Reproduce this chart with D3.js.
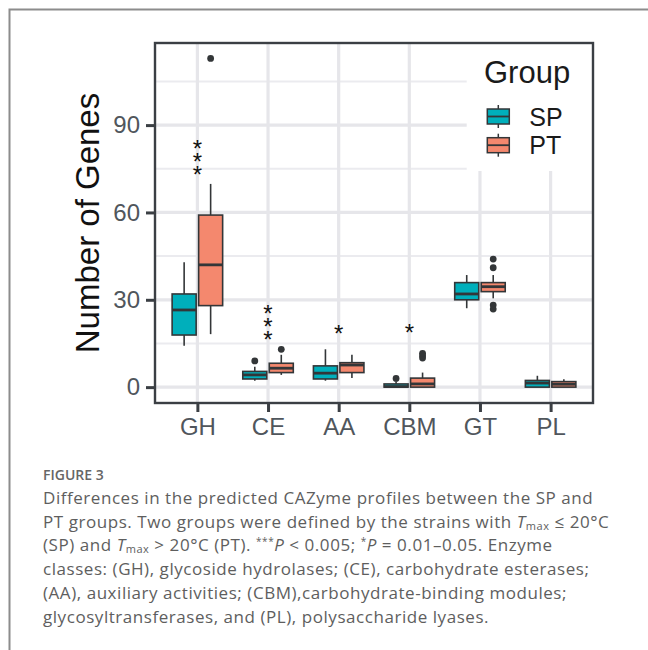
<!DOCTYPE html>
<html>
<head>
<meta charset="utf-8">
<script src="https://cdn.jsdelivr.net/npm/d3@7"></script>
<style>
  html, body { margin: 0; padding: 0; background: #fff; }
  svg { display: block; }
  .stars { writing-mode: vertical-rl; text-orientation: upright; }
</style>
</head>
<body>
<svg id="chart" width="648" height="650"></svg>
<script>
// ---------------- data ----------------
const categories = ["GH", "CE", "AA", "CBM", "GT", "PL"];
const groups = ["SP", "PT"];
const groupColors = ["#00AFBB", "#F4886E"];

// [lower whisker, Q1, median, Q3, upper whisker] per category
const spStats = [
  [14.2, 17.9, 26.5, 32.0, 42.9],
  [2.2, 2.8, 4.2, 5.4, 7.0],
  [2.2, 2.8, 4.8, 7.3, 13.0],
  [0.0, 0.0, 0.2, 1.1, 2.0],
  [27.1, 30.0, 32.0, 35.9, 38.5],
  [0.0, 0.0, 1.4, 2.3, 3.9]
];
const ptStats = [
  [18.2, 28.0, 42.0, 59.1, 69.8],
  [4.2, 5.0, 6.5, 8.2, 11.1],
  [3.1, 5.0, 7.6, 8.4, 11.1],
  [0.0, 0.0, 1.1, 3.1, 5.0],
  [30.5, 32.8, 34.5, 35.9, 38.5],
  [0.0, 0.0, 1.0, 1.9, 2.7]
];
const spOutliers = [[], [9], [], [3], [], []];
const ptOutliers = [[112.9], [13], [], [10, 10.8, 11.6], [44, 41, 28.2, 26.8], []];

const sigLabels = ["***", "***", "*", "*", "", ""];
const sigY = [75.2, 18.5, 18.3, 18.7, null, null]; // value of lowest star

const yTicks = [0, 30, 60, 90];
const yMinor = [15, 45, 75, 105];
const yTitle = "Number of Genes";
const legendTitle = "Group";

const figureLabel = "FIGURE 3";
const captionLines = [
  [{t: "Differences in the predicted CAZyme profiles between the SP and"}],
  [{t: "PT groups. Two groups were defined by the strains with "}, {t: "T", i: 1}, {t: "max", sub: 1}, {t: " \u2264 20\u00B0C"}],
  [{t: "(SP) and "}, {t: "T", i: 1}, {t: "max", sub: 1}, {t: " > 20\u00B0C (PT). "}, {t: "***", sup: 1}, {t: "P", i: 1}, {t: " < 0.005; "}, {t: "*", sup: 1}, {t: "P", i: 1}, {t: " = 0.01\u20130.05. Enzyme"}],
  [{t: "classes: (GH), glycoside hydrolases; (CE), carbohydrate esterases;"}],
  [{t: "(AA), auxiliary activities; (CBM),carbohydrate-binding modules;"}],
  [{t: "glycosyltransferases, and (PL), polysaccharide lyases."}]
];

// ---------------- layout ----------------
const svg = d3.select("#chart");
const P = {left: 155, right: 593, top: 43, bottom: 403};

const x = d3.scalePoint().domain(categories).range([P.left, P.right]).padding(0.6);
const y = d3.scaleLinear().domain([-5.45, 118.2]).range([P.bottom, P.top]);
const step = x.step();
const dodge = d3.scaleOrdinal().domain(groups).range([-0.1875 * step, 0.1875 * step]);
const color = d3.scaleOrdinal().domain(groups).range(groupColors);
const boxW = 0.34 * step;

// outer card frame
svg.append("path")
  .attr("d", "M9.5,650 L9.5,9.5 L648,9.5")
  .attr("fill", "none").attr("stroke", "#8c8c8c").attr("stroke-width", 2);

// panel background
svg.append("rect").attr("x", P.left).attr("y", P.top)
  .attr("width", P.right - P.left).attr("height", P.bottom - P.top).attr("fill", "#fff");

const grid = svg.append("g");
grid.selectAll("line.minor").data(yMinor).join("line")
  .attr("x1", P.left).attr("x2", P.right)
  .attr("y1", d => y(d)).attr("y2", d => y(d))
  .attr("stroke", "#EBEBEF").attr("stroke-width", 2);
grid.selectAll("line.major").data(yTicks).join("line")
  .attr("x1", P.left).attr("x2", P.right)
  .attr("y1", d => y(d)).attr("y2", d => y(d))
  .attr("stroke", "#E6E6EA").attr("stroke-width", 3.2);
grid.selectAll("line.vert").data(categories).join("line")
  .attr("y1", P.top).attr("y2", P.bottom)
  .attr("x1", d => x(d)).attr("x2", d => x(d))
  .attr("stroke", "#E6E6EA").attr("stroke-width", 3.2);

// boxes
const boxData = [];
categories.forEach((c, i) => {
  boxData.push({cat: c, grp: "SP", s: spStats[i], out: spOutliers[i]});
  boxData.push({cat: c, grp: "PT", s: ptStats[i], out: ptOutliers[i]});
});
const stroke = "#333638";
const bg = svg.append("g").selectAll("g").data(boxData).join("g")
  .attr("transform", d => `translate(${x(d.cat) + dodge(d.grp)},0)`);
bg.append("line").attr("x1", 0).attr("x2", 0)
  .attr("y1", d => y(d.s[0])).attr("y2", d => y(d.s[1]))
  .attr("stroke", stroke).attr("stroke-width", 1.6);
bg.append("line").attr("x1", 0).attr("x2", 0)
  .attr("y1", d => y(d.s[3])).attr("y2", d => y(d.s[4]))
  .attr("stroke", stroke).attr("stroke-width", 1.6);
bg.append("rect")
  .attr("x", -boxW / 2).attr("width", boxW)
  .attr("y", d => y(d.s[3])).attr("height", d => Math.max(0.5, y(d.s[1]) - y(d.s[3])))
  .attr("fill", d => color(d.grp)).attr("stroke", stroke).attr("stroke-width", 1.6);
bg.append("line").attr("x1", -boxW / 2).attr("x2", boxW / 2)
  .attr("y1", d => y(d.s[2])).attr("y2", d => y(d.s[2]))
  .attr("stroke", stroke).attr("stroke-width", 2.8);
bg.selectAll("circle").data(d => d.out).join("circle")
  .attr("cx", 0).attr("cy", d => y(d)).attr("r", 3.4).attr("fill", stroke);

// significance stars: one vertical text element per label
const starFs = 24;
const sg = svg.append("g");
categories.forEach((c, i) => {
  if (!sigLabels[i]) return;
  const n = sigLabels[i].length;
  const bottomCenter = y(sigY[i]);
  const t = sg.append("text")
    .attr("class", "stars")
    .attr("font-family", "Liberation Sans, Arial, sans-serif")
    .attr("font-size", starFs).attr("fill", "#111")
    .attr("text-anchor", "middle")
    .attr("letter-spacing", 0)
    .attr("x", x(c))
    .attr("y", bottomCenter - (n - 1) * 13 / 2)
    .text(sigLabels[i]);
  if (n > 1) {
    const len = t.node().getComputedTextLength();
    const adv = len / n;
    t.attr("letter-spacing", 13 - adv);
  }
  const bb = t.node().getBBox();
  const inkCy = bb.y + bb.height / 2;
  const targetCy = bottomCenter - (n - 1) * 13 / 2;
  t.attr("y", +t.attr("y") + (targetCy - inkCy));
  const inkCx = bb.x + bb.width / 2;
  t.attr("x", x(c) + (x(c) - inkCx));
});

// legend
const L = {x: 466.7, y: P.top, w: P.right - 466.7, h: 128};
svg.append("rect").attr("x", L.x).attr("y", L.y).attr("width", L.w).attr("height", L.h).attr("fill", "#fff");
svg.append("text").attr("x", 484).attr("y", 82.5)
  .attr("font-family", "Liberation Sans, Arial, sans-serif").attr("font-size", 31).attr("fill", "#1a1a1a")
  .text(legendTitle);
const legKeys = svg.append("g").selectAll("g").data(groups).join("g")
  .attr("transform", (d, i) => `translate(498.3,${116.5 + i * 28.7})`);
legKeys.append("line").attr("y1", -11.5).attr("y2", 11.5).attr("stroke", stroke).attr("stroke-width", 1.5);
legKeys.append("rect").attr("x", -11).attr("y", -7.5).attr("width", 22).attr("height", 15)
  .attr("fill", d => color(d)).attr("stroke", stroke).attr("stroke-width", 1.5);
legKeys.append("line").attr("x1", -11).attr("x2", 11).attr("stroke", stroke).attr("stroke-width", 1.8);
legKeys.append("text").attr("x", 31).attr("y", 9)
  .attr("font-family", "Liberation Sans, Arial, sans-serif").attr("font-size", 25).attr("fill", "#1a1a1a")
  .text(d => d);

// panel border
svg.append("rect").attr("x", P.left).attr("y", P.top)
  .attr("width", P.right - P.left).attr("height", P.bottom - P.top)
  .attr("fill", "none").attr("stroke", "#3b3f44").attr("stroke-width", 2.4);

// axes
const tickCol = "#3b3f44";
const labCol = "#50565c";
const yAxis = svg.append("g").attr("transform", `translate(${P.left - 1},0)`)
  .call(d3.axisLeft(y).tickValues(yTicks).tickSize(8).tickPadding(6).tickFormat(d3.format("d")));
yAxis.select(".domain").remove();
yAxis.selectAll(".tick line").attr("stroke", tickCol).attr("stroke-width", 3);
yAxis.selectAll(".tick text").attr("font-family", "Liberation Sans, Arial, sans-serif")
  .attr("font-size", 24).attr("fill", labCol);

const xAxis = svg.append("g").attr("transform", `translate(0,${P.bottom + 1})`)
  .call(d3.axisBottom(x).tickSize(8).tickPadding(6));
xAxis.select(".domain").remove();
xAxis.selectAll(".tick line").attr("stroke", tickCol).attr("stroke-width", 3);
xAxis.selectAll(".tick text").attr("font-family", "Liberation Sans, Arial, sans-serif")
  .attr("font-size", 24).attr("fill", labCol);

svg.append("text")
  .attr("transform", `translate(99,${(P.top + P.bottom) / 2}) rotate(-90)`)
  .attr("text-anchor", "middle")
  .attr("font-family", "Liberation Sans, Arial, sans-serif").attr("font-size", 33).attr("fill", "#111")
  .text(yTitle);

// caption
svg.append("text").attr("x", 43).attr("y", 480)
  .attr("font-family", "Open Sans, sans-serif").attr("font-weight", 600)
  .attr("font-size", 14).attr("fill", "#666").text(figureLabel);

const cap = svg.append("g").attr("font-family", "Open Sans, sans-serif")
  .attr("font-size", 17).attr("letter-spacing", 0.55).attr("fill", "#5e5e5e");
captionLines.forEach((segs, li) => {
  const t = cap.append("text").attr("x", 43).attr("y", 504 + li * 23.7);
  const spans = segs.map(s => {
    const ts = t.append("tspan").text(s.t);
    if (s.i) ts.attr("font-style", "italic");
    if (s.sub) ts.attr("font-size", 11).attr("dy", 2);
    if (s.sup) ts.attr("font-size", 10).attr("dy", -6);
    return ts;
  });
  segs.forEach((s, k) => {
    if ((s.sub || s.sup) && spans[k + 1]) spans[k + 1].attr("dy", s.sub ? -2 : 6);
  });
});
</script>
</body>
</html>
